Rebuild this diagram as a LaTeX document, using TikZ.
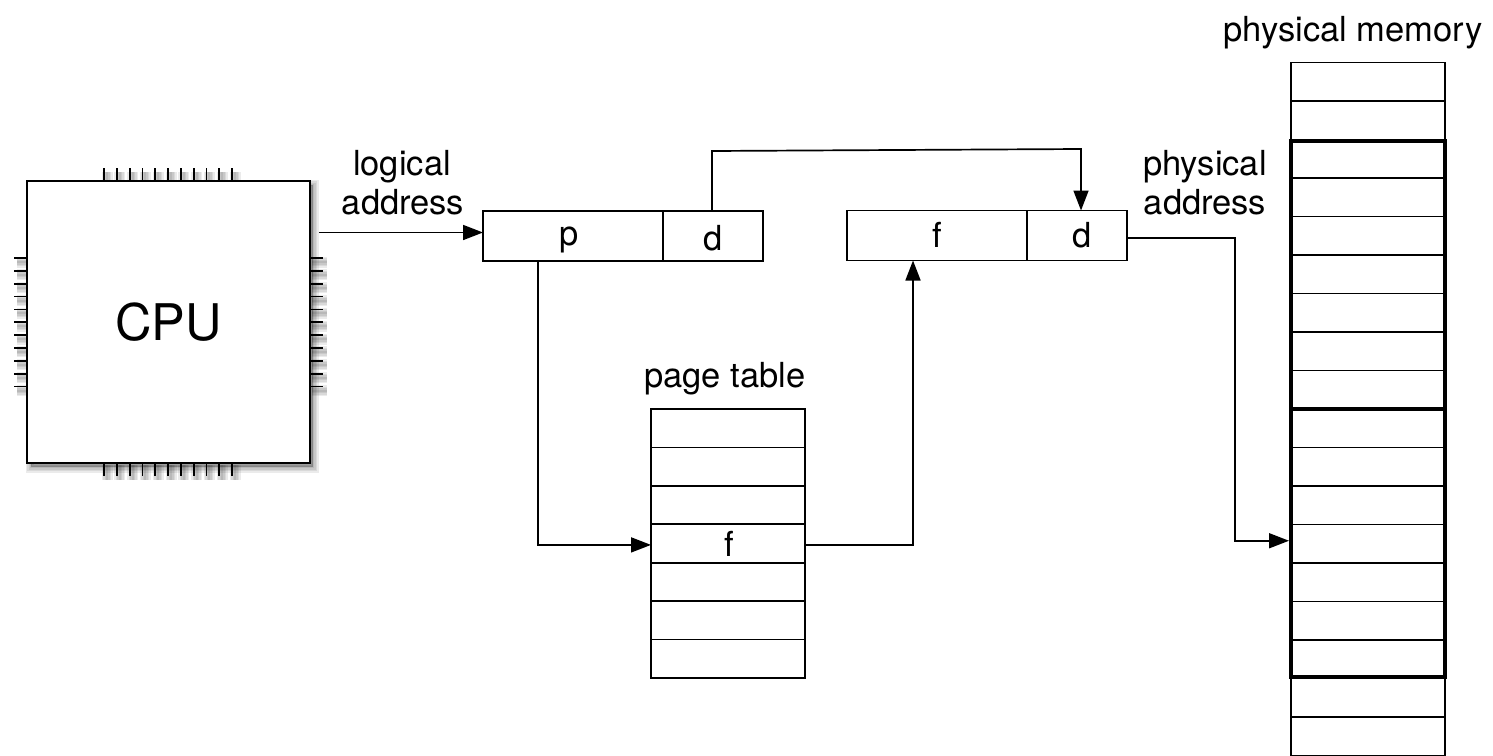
\documentclass[tikz,border=0pt]{standalone}
\usepackage{fontspec}
\setmainfont{TeX Gyre Heros}
\usetikzlibrary{arrows.meta}
\tikzset{
  cell/.style={draw=black,line width=1.7pt,fill=white,rectangle,inner sep=0pt,outer sep=0pt,minimum width=154pt,minimum height=38.5pt},
  fieldcell/.style={draw=black,line width=1.7pt,rectangle,inner sep=0pt,outer sep=0pt,minimum height=50pt,text height=24pt,text depth=0pt,font=\fontsize{34.5}{40}\selectfont},
  lbl/.style={inner sep=0pt,anchor=base,align=center,font=\fontsize{34.5}{40}\selectfont},
  conn/.style={line width=1.7pt,-{Triangle[length=20pt,width=15pt]},line join=miter},
  pin/.style={line width=1.8pt,black},
  soft/.style={black,opacity=0.08}
}
\begin{document}
\begin{tikzpicture}[x=1pt,y=-1pt]
\useasboundingbox (0,0) rectangle (1493,755);
% shadows
\foreach \w in {11,8,5,2}{
  \draw[soft,line width=\w pt,fill=black,fill opacity=0.08] (31,185) rectangle (313,467);
  \foreach \i in {0,...,10}{
    \draw[soft,line width=\w pt] (107+12.8*\i,172) -- (107+12.8*\i,186);
    \draw[soft,line width=\w pt] (107+12.8*\i,465) -- (107+12.8*\i,480);
    \draw[soft,line width=\w pt] (17,262+12.85*\i) -- (32,262+12.85*\i);
    \draw[soft,line width=\w pt] (312,262+12.85*\i) -- (327,262+12.85*\i);
  }
}
% pins
\foreach \i in {0,...,10}{
  \draw[pin] (104+12.8*\i,168) -- (104+12.8*\i,181);
  \draw[pin] (104+12.8*\i,463) -- (104+12.8*\i,476);
  \draw[pin] (14,258+12.85*\i) -- (27,258+12.85*\i);
  \draw[pin] (310,258+12.85*\i) -- (323,258+12.85*\i);
}
\node[draw=black,line width=2pt,fill=white,rectangle,inner sep=0pt,minimum width=283pt,minimum height=282pt,font=\fontsize{50.5}{52}\selectfont] (cpu) at (168.5,322) {CPU};
\coordinate (cpuout) at (319,232.5);
% address fields
\node[fieldcell,minimum width=180pt] (p) at (573,236) {\raisebox{2.5pt}{\hspace{-8pt}p}};
\node[fieldcell,minimum width=100pt] (d1) at (713,236) {\raisebox{-2pt}{d}};
\node[fieldcell,minimum width=180pt] (f) at (937,235.5) {\hspace{1pt}f};
\node[fieldcell,minimum width=100pt] (d2) at (1077,235.5) {\hspace{11pt}d};
% page table
\foreach \k in {1,2,3,5,6,7}{
  \node[cell] (t\k) at (728,409+38.4*\k-19.2) {};
}
\node[cell,font=\fontsize{34.5}{40}\selectfont] (t4) at (728,409+38.4*4-19.2) {\raisebox{-2pt}{\hspace{2pt}f}};
% physical memory
\foreach \k in {1,...,18}{
  \node[cell] (m\k) at (1368,62.5+38.5*\k-19.25) {};
}
\node[draw=black,line width=3.4pt,rectangle,inner sep=0pt,outer sep=0pt,minimum width=154pt,minimum height=536pt] (frame) at (1368,409) {};
\draw[line width=3.4pt] (frame.west) -- (frame.east);
% labels
\node[lbl] (l1) at (402,175) {logical};
\node[lbl] (l2) at (403,214) {address};
\node[lbl] (l3) at (1205,175) {physical};
\node[lbl] (l4) at (1205,214) {address};
\node[lbl] (l5) at (725,387) {page table};
\node[lbl] (l6) at (1353,41) {physical memory};
% connectors
\draw[conn] (cpuout) -- ([yshift=3.5pt]p.west);
\coordinate (topa) at (712,151);
\coordinate (topb) at (1081,149);
\draw[conn] ([xshift=-1pt]d1.north) -- (topa) -- (topb) -- ([xshift=4pt]d2.north);
\draw[conn] ([xshift=-35pt]p.south) |- ([yshift=-1.5pt]t4.west);
\draw[conn] ([yshift=-1.5pt]t4.east) -| ([xshift=-24pt]f.south);
\coordinate (bend) at (1235,238);
\draw[conn,shorten >=2pt] ([yshift=-2.5pt]d2.east) -- (bend) |- ([yshift=3pt]m13.west);
\end{tikzpicture}
\end{document}
